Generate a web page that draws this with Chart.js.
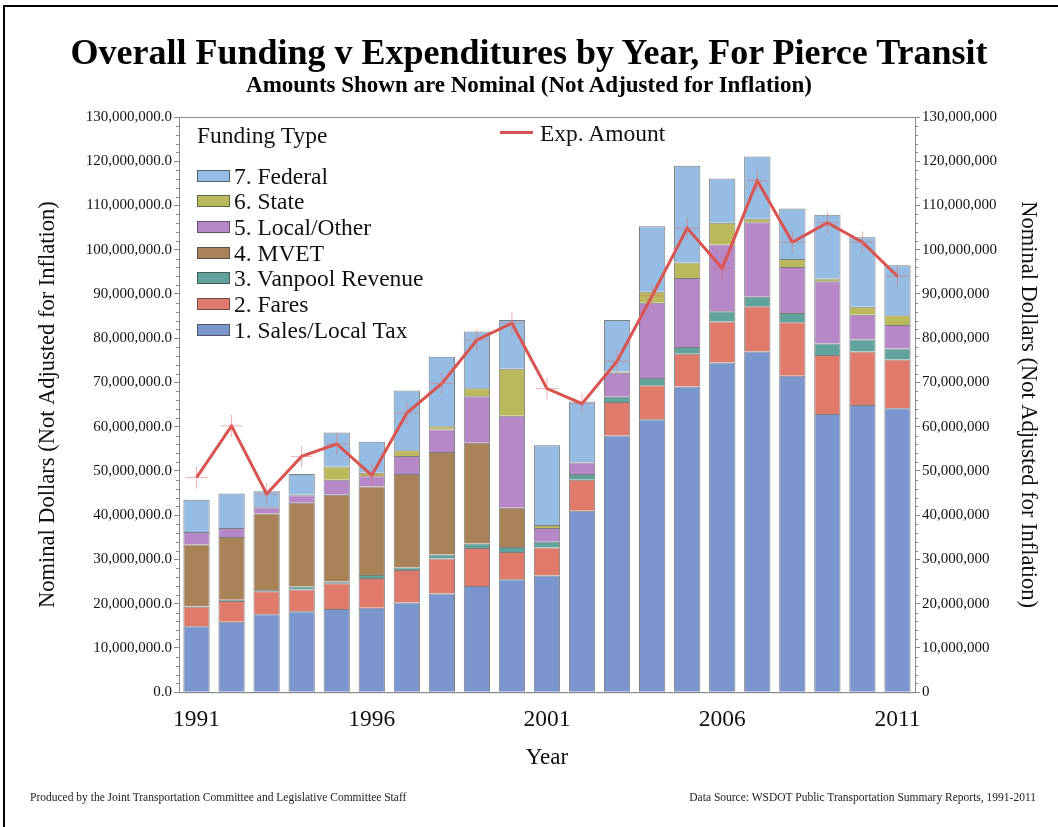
<!DOCTYPE html>
<html lang="en">
<head>
    <meta charset="UTF-8">
    <title>Overall Funding v Expenditures by Year, For Pierce Transit</title>
    <script src="https://cdn.jsdelivr.net/npm/chart.js"></script>
    <style>
        body { margin: 0; background: #fff; font-family: "Liberation Serif", serif; }
        #wrap { position: relative; width: 1058px; height: 827px; overflow: hidden; }
        #frame { position: absolute; left: 3px; top: 5px; width: 1100px; height: 900px;
                 border-left: 2px solid #000; border-top: 2px solid #000; }
        #chart { position: absolute; left: 0; top: 0; }
        .title { position: absolute; left: 0; width: 1058px; text-align: center; font-weight: bold; color: #000; white-space: nowrap; }
        .legend { position: absolute; font-size: 23.5px; line-height: 26px; color: #111; white-space: nowrap; }
        .sw { position: absolute; width: 31px; height: 10px; border: 1px solid rgba(60,60,60,0.7); }
        .foot { position: absolute; font-size: 11.5px; color: #222; white-space: nowrap; }
    </style>
</head>
<body>
<div id="wrap">
    <div id="frame"></div>
    <canvas id="chart" width="1058" height="827"></canvas>
    <div class="title" style="top:31px;font-size:36px;">Overall Funding v Expenditures by Year, For Pierce Transit</div>
    <div class="title" style="top:72px;font-size:23px;">Amounts Shown are Nominal (Not Adjusted for Inflation)</div>
    <div id="legend"></div>
    <div class="foot" style="left:30px;top:791px;">Produced by the Joint Transportation Committee and Legislative Committee Staff</div>
    <div class="foot" style="right:22px;top:791px;">Data Source: WSDOT Public Transportation Summary Reports, 1991-2011</div>
</div>

<script>
    // values in millions of dollars
    const years = ["1991","1992","1993","1994","1995","1996","1997","1998","1999","2000",
                   "2001","2002","2003","2004","2005","2006","2007","2008","2009","2010","2011"];
    const salesTax = [14.9,15.9,17.6,18.3,18.8,19.1,20.3,22.3,24.0,25.5,26.4,41.0,58.0,61.7,69.1,74.5,77.0,71.5,62.9,64.9,64.2];
    const fares    = [4.4,4.7,5.2,4.9,5.8,6.7,7.3,7.9,8.6,6.2,6.3,7.0,7.6,7.7,7.4,9.3,10.2,12.1,13.3,12.1,11.0];
    const vanpool  = [0.1,0.3,0.3,0.7,0.4,0.7,0.6,0.9,1.0,1.1,1.3,1.3,1.2,1.6,1.5,2.3,2.2,2.1,2.6,2.7,2.5];
    const mvet     = [14.0,14.2,17.3,18.9,19.6,20.0,21.1,23.2,22.8,8.9,0,0,0,0,0,0,0,0,0,0,0];
    const localOther = [2.8,2.0,1.4,1.7,3.4,2.3,4.1,5.1,10.5,20.8,3.1,2.6,5.4,17.0,15.6,15.1,16.8,10.4,14.1,5.6,5.3];
    const state    = [0,0,0,0.1,3.0,0.8,1.3,0.7,1.8,10.6,0.7,0,0.2,2.5,3.5,4.9,0.8,1.8,0.6,1.8,2.2];
    const federal  = [7.3,7.8,3.6,4.7,7.7,7.0,13.5,15.7,12.8,11.0,18.0,13.8,11.7,14.8,21.9,10.0,14.1,11.4,14.4,15.7,11.3];
    const expAmount = [48.5,60.2,44.8,53.3,56.1,49.0,63.1,69.8,79.6,83.4,68.6,65.2,74.8,89.6,104.9,95.8,115.6,101.7,106.1,101.7,94.0];
    const yTicks = [0,10,20,30,40,50,60,70,80,90,100,110,120,130];

    const series = [
        { label: "1. Sales/Local Tax", data: salesTax, color: "#7B96CE" },
        { label: "2. Fares", data: fares, color: "#E07B6B" },
        { label: "3. Vanpool Revenue", data: vanpool, color: "#5FA39C" },
        { label: "4. MVET", data: mvet, color: "#A88358" },
        { label: "5. Local/Other", data: localOther, color: "#B688C8" },
        { label: "6. State", data: state, color: "#BABA5C" },
        { label: "7. Federal", data: federal, color: "#95BDE3" }
    ];
    const lineColor = "#D95450";
    const serif = "'Liberation Serif', 'Times New Roman', serif";

    // legend overlay
    const legend = document.getElementById("legend");
    let html = '<div class="legend" style="left:197px;top:122px;">Funding Type</div>';
    series.slice().reverse().forEach((s, i) => {
        const cy = 175.5 + i * 25.7;
        html += `<div class="sw" style="left:197px;top:${cy - 6}px;background:${s.color};"></div>`;
        html += `<div class="legend" style="left:234px;top:${cy - 13}px;">${s.label}</div>`;
    });
    html += `<div style="position:absolute;left:500px;top:131px;width:33px;height:3px;background:${lineColor};"></div>`;
    html += '<div class="legend" style="left:540px;top:120px;">Exp. Amount</div>';
    legend.innerHTML = html;

    const fmt = (v, dec) => (v * 1e6).toLocaleString("en-US", { minimumFractionDigits: dec, maximumFractionDigits: dec });

    const frameAndMinor = {
        id: "frameAndMinor",
        afterDatasetsDraw(chart) {
            const { ctx, chartArea: a, scales } = chart;
            ctx.save();
            ctx.strokeStyle = "#8a8a8a";
            ctx.lineWidth = 1;
            ctx.strokeRect(a.left + 0.5, a.top + 0.5, a.right - a.left, a.bottom - a.top);
            // minor ticks every 2M
            for (let v = 0; v <= 130; v += 2) {
                if (v % 10 === 0) continue;
                const y = Math.round(scales.y.getPixelForValue(v)) + 0.5;
                ctx.beginPath();
                ctx.moveTo(a.left - 3, y); ctx.lineTo(a.left, y);
                ctx.moveTo(a.right, y); ctx.lineTo(a.right + 3, y);
                ctx.stroke();
            }
            ctx.restore();
        }
    };

    const datasets = series.map(s => ({
        type: "bar",
        label: s.label,
        data: s.data,
        backgroundColor: s.color,
        borderColor: "rgba(55,55,55,0.65)",
        borderWidth: 1,
        stack: "funding",
        order: 2
    }));
    datasets.push({
        type: "line",
        label: "Exp. Amount",
        data: expAmount,
        borderColor: lineColor,
        borderWidth: 3,
        tension: 0,
        pointStyle: "cross",
        pointRadius: 11,
        pointBorderWidth: 1,
        pointBorderColor: "rgba(225,110,110,0.55)",
        pointBackgroundColor: "rgba(0,0,0,0)",
        stack: "exp",
        order: 1
    });

    new Chart(document.getElementById("chart"), {
        data: { labels: years, datasets: datasets },
        options: {
            responsive: false,
            animation: false,
            layout: { padding: { top: 117, left: 35, right: 17, bottom: 55 } },
            plugins: { legend: { display: false }, tooltip: { enabled: false } },
            datasets: { bar: { barPercentage: 1, categoryPercentage: 0.75 } },
            scales: {
                x: {
                    stacked: true,
                    grid: { display: false },
                    border: { color: "#8a8a8a" },
                    ticks: {
                        autoSkip: false, maxRotation: 0, padding: 6, color: "#111",
                        font: { family: serif, size: 23.5 },
                        callback: (v, i) => (i % 5 === 0 ? years[i] : "")
                    },
                    title: { display: true, text: "Year", color: "#111", font: { family: serif, size: 23 }, padding: { top: 4, bottom: 0 } }
                },
                y: {
                    stacked: true, min: 0, max: 130,
                    afterBuildTicks: s => { s.ticks = yTicks.map(v => ({ value: v })); },
                    afterFit: s => { s.width = 144; },
                    grid: { drawOnChartArea: false, tickLength: 5, color: "#8a8a8a" },
                    border: { color: "#8a8a8a" },
                    ticks: { padding: 2, color: "#111", font: { family: serif, size: 15 }, callback: v => fmt(v, 1) },
                    title: { display: true, text: "Nominal Dollars (Not Adjusted for Inflation)", color: "#111", font: { family: serif, size: 22.5 }, padding: 0 }
                },
                y2: {
                    position: "right", min: 0, max: 130,
                    afterBuildTicks: s => { s.ticks = yTicks.map(v => ({ value: v })); },
                    afterFit: s => { s.width = 126; },
                    grid: { drawOnChartArea: false, tickLength: 5, color: "#8a8a8a" },
                    border: { color: "#8a8a8a" },
                    ticks: { padding: 2, color: "#111", font: { family: serif, size: 15 }, callback: v => fmt(v, 0) },
                    title: { display: true, text: "Nominal Dollars (Not Adjusted for Inflation)", color: "#111", font: { family: serif, size: 22.5 }, padding: 0 }
                }
            }
        },
        plugins: [frameAndMinor]
    });
</script>
</body>
</html>
